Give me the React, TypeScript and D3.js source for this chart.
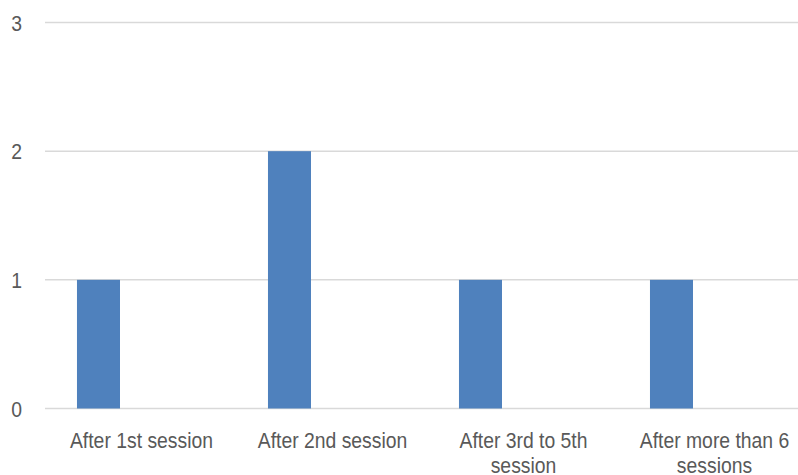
import React, { useEffect, useRef } from "react";
import * as d3 from "d3";

const categories = [
  "After 1st session",
  "After 2nd session",
  "After 3rd to 5th session",
  "After more than 6 sessions",
];
const seriesNames = ["Series1", "Series2", "Series3"];
const series1 = [1, 2, 1, 1];
const series2 = [0, 0, 0, 0];
const series3 = [0, 0, 0, 0];
const yTicks = [0, 1, 2, 3];

const width = 798;
const height = 475;
const margin = { top: 22.5, right: -11, bottom: 66.5, left: 45 };
const FONT = "'Liberation Sans', Arial, sans-serif";
const FS = 22;
const SX = 0.88; // 模擬窄字體

const App: React.FC = () => {
  const ref = useRef<SVGSVGElement | null>(null);

  useEffect(() => {
    const svg = d3.select(ref.current);
    svg.selectAll("*").remove();

    const allSeries = [series1, series2, series3];

    const x0 = d3
      .scaleBand<string>()
      .domain(categories)
      .range([margin.left + 1, width - margin.right + 1])
      .padding(0);

    const x1 = d3
      .scaleBand<string>()
      .domain(seriesNames)
      .range([0, x0.bandwidth()])
      .paddingInner(0)
      .paddingOuter(0.72);

    const y = d3
      .scaleLinear()
      .domain([0, 3])
      .range([height - margin.bottom, margin.top]);

    // 網格線
    svg
      .append("g")
      .selectAll("line")
      .data(yTicks)
      .join("line")
      .attr("x1", margin.left)
      .attr("x2", width)
      .attr("y1", (d) => y(d))
      .attr("y2", (d) => y(d))
      .attr("stroke", "#d9d9d9")
      .attr("stroke-width", 1.5);

    // y 軸標籤
    svg
      .append("g")
      .selectAll("text")
      .data(yTicks)
      .join("text")
      .attr("transform", (d) => `translate(22,${y(d) + 8}) scale(${SX},1)`)
      .attr("text-anchor", "end")
      .attr("font-family", FONT)
      .attr("font-size", FS)
      .attr("fill", "#595959")
      .text((d) => String(d));

    // 長條
    const groups = svg
      .append("g")
      .selectAll("g")
      .data(categories)
      .join("g")
      .attr("transform", (d) => `translate(${x0(d)},0)`);

    groups
      .selectAll("rect")
      .data((_, i) =>
        seriesNames.map((s, k) => ({ s, v: allSeries[k][i] }))
      )
      .join("rect")
      .attr("x", (d) => x1(d.s) ?? 0)
      .attr("width", x1.bandwidth())
      .attr("y", (d) => y(d.v))
      .attr("height", (d) => y(0) - y(d.v))
      .attr("fill", "#4f81bd");

    // x 軸標籤（自動換行）
    const maxW = (x0.bandwidth() - 20) / SX;
    categories.forEach((c) => {
      const cx = (x0(c) ?? 0) + x0.bandwidth() / 2;
      const t = svg
        .append("text")
        .attr("transform", `translate(${cx},448) scale(${SX},1)`)
        .attr("text-anchor", "middle")
        .attr("font-family", FONT)
        .attr("font-size", FS)
        .attr("fill", "#595959");
      const words = c.split(" ");
      let line: string[] = [];
      let lineNo = 0;
      let tspan = t.append("tspan").attr("x", 0).attr("y", 0);
      words.forEach((w) => {
        line.push(w);
        tspan.text(line.join(" "));
        if ((tspan.node()?.getComputedTextLength() ?? 0) > maxW && line.length > 1) {
          line.pop();
          tspan.text(line.join(" "));
          line = [w];
          lineNo++;
          tspan = t
            .append("tspan")
            .attr("x", 0)
            .attr("y", lineNo * 25)
            .text(w);
        }
      });
    });
  }, []);

  return (
    <svg
      ref={ref}
      width={width}
      height={height}
      style={{ position: "absolute", left: 0, top: 0, background: "#fff" }}
    />
  );
};

export default App;
